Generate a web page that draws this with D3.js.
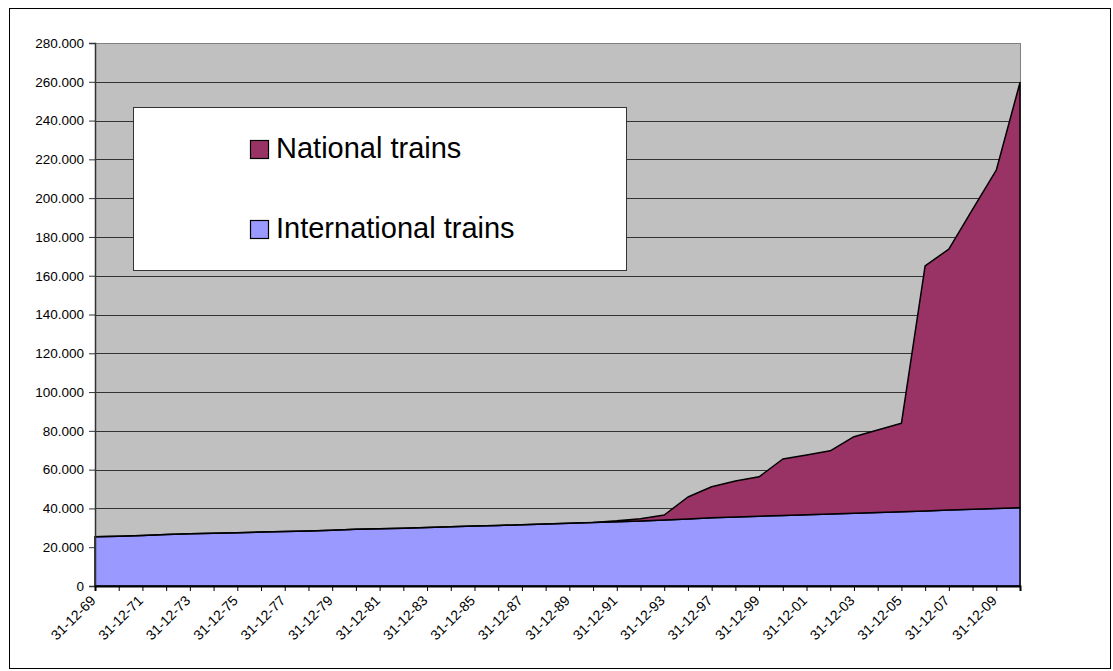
<!DOCTYPE html>
<html>
<head>
<meta charset="utf-8">
<script src="https://cdn.jsdelivr.net/npm/d3@7"></script>
<style>
  body { margin: 0; background: #fff; }
  svg { display: block; font-family: "Liberation Sans", Arial, sans-serif; }
</style>
</head>
<body>
<svg width="1113" height="671"></svg>
<script>
// dates on the category axis (one year is skipped after 93)
var dates = ["31-12-69","31-12-70","31-12-71","31-12-72","31-12-73","31-12-74","31-12-75","31-12-76",
  "31-12-77","31-12-78","31-12-79","31-12-80","31-12-81","31-12-82","31-12-83","31-12-84","31-12-85",
  "31-12-86","31-12-87","31-12-88","31-12-89","31-12-90","31-12-91","31-12-92","31-12-93","31-12-95",
  "31-12-97","31-12-98","31-12-99","31-12-00","31-12-01","31-12-02","31-12-03","31-12-04","31-12-05",
  "31-12-06","31-12-07","31-12-08","31-12-09","31-12-10"];

// international trains (bottom series)
var international = [25400,25700,26100,26500,26900,27200,27500,27800,28100,28400,28800,29200,29500,
  29800,30200,30600,30900,31200,31600,32000,32300,32700,33100,33500,34000,34600,35200,35600,36000,
  36400,36700,37100,37500,37900,38300,38700,39200,39600,40000,40400];

// national trains (stacked on top)
var national = [0,0,0,0,0,0,0,0,0,0,0,0,0,0,0,0,0,0,0,0,0,100,500,1200,2600,11300,16000,18500,20300,
  29100,30800,32600,39500,42500,45600,126400,134500,154600,174400,219200];

var yTicks = [0,20000,40000,60000,80000,100000,120000,140000,160000,180000,200000,220000,240000,260000,280000];

var seriesNames = ["International trains", "National trains"];
var colors = {"International trains": "#9999FF", "National trains": "#993366"};

var svg = d3.select("svg");

// outer chart border
svg.append("rect")
  .attr("x", 9.5).attr("y", 8.5)
  .attr("width", 1101).attr("height", 660)
  .attr("fill", "#fff").attr("stroke", "#000").attr("stroke-width", 1);

var plotLeft = 95, plotRight = 1020, plotTop = 43, plotBottom = 586;

var x = d3.scalePoint().domain(dates).range([plotLeft, plotRight]);
var y = d3.scaleLinear().domain([0, 280000]).range([plotBottom, plotTop]);

// plot background
svg.append("rect")
  .attr("x", plotLeft).attr("y", plotTop)
  .attr("width", plotRight - plotLeft).attr("height", plotBottom - plotTop)
  .attr("fill", "#C0C0C0");

// gridlines
svg.append("g").selectAll("line")
  .data(yTicks.slice(1))
  .join("line")
  .attr("x1", plotLeft).attr("x2", plotRight)
  .attr("y1", function(d) { return Math.round(y(d)) + 0.5; })
  .attr("y2", function(d) { return Math.round(y(d)) + 0.5; })
  .attr("stroke", function(d) { return d === 280000 ? "#808080" : "#333"; })
  .attr("stroke-width", 1);

// right edge of plot area
svg.append("line")
  .attr("x1", plotRight + 0.5).attr("x2", plotRight + 0.5)
  .attr("y1", plotTop).attr("y2", plotBottom)
  .attr("stroke", "#808080");

var rows = dates.map(function(d, i) {
  return {date: d, "International trains": international[i], "National trains": national[i]};
});

var stacked = d3.stack().keys(seriesNames)(rows);

var area = d3.area()
  .x(function(d) { return x(d.data.date); })
  .y0(function(d) { return y(d[0]); })
  .y1(function(d) { return y(d[1]); });

svg.append("g").selectAll("path")
  .data(stacked)
  .join("path")
  .attr("d", area)
  .attr("fill", function(d) { return colors[d.key]; })
  .attr("stroke", "#000")
  .attr("stroke-width", 1.5)
  .attr("stroke-linejoin", "round");

// y axis
var yAxis = svg.append("g")
  .attr("transform", "translate(" + plotLeft + ",0)")
  .call(d3.axisLeft(y).tickValues(yTicks).tickSize(6).tickPadding(5)
    .tickFormat(function(d) { return d === 0 ? "0" : d3.format(",")(d).replace(/,/g, "."); }));
yAxis.select(".domain").attr("stroke", "#333").attr("stroke-width", 1.5);
yAxis.selectAll(".tick line").attr("stroke", "#333");
yAxis.selectAll("text").attr("font-size", "13.5px").attr("fill", "#000")
  .attr("font-family", "Liberation Sans, Arial, sans-serif");

// x axis
var xAxis = svg.append("g")
  .attr("transform", "translate(0," + plotBottom + ")")
  .call(d3.axisBottom(x).tickSize(5).tickFormat(""));
xAxis.select(".domain").attr("stroke", "#000").attr("stroke-width", 2);
xAxis.selectAll(".tick line").attr("stroke", "#000");

svg.append("g").selectAll("text")
  .data(dates.filter(function(d, i) { return i % 2 === 0; }))
  .join("text")
  .attr("transform", function(d) { return "translate(" + (x(d) - 2) + "," + (plotBottom + 12) + ") rotate(-45)"; })
  .attr("text-anchor", "end")
  .attr("dy", "0.35em")
  .attr("font-size", "14px")
  .text(function(d) { return d; });

// legend
var legend = svg.append("g");
legend.append("rect")
  .attr("x", 133.5).attr("y", 107.5)
  .attr("width", 493).attr("height", 163)
  .attr("fill", "#fff").attr("stroke", "#333").attr("stroke-width", 1);

var legendItems = [
  {name: "National trains", y: 141},
  {name: "International trains", y: 221}
];
legend.selectAll("rect.key")
  .data(legendItems)
  .join("rect")
  .attr("class", "key")
  .attr("x", 250.5).attr("y", function(d) { return d.y - 0.5; })
  .attr("width", 18).attr("height", 18)
  .attr("fill", function(d) { return colors[d.name]; })
  .attr("stroke", "#000").attr("stroke-width", 1.2);
legend.selectAll("text")
  .data(legendItems)
  .join("text")
  .attr("x", 276)
  .attr("y", function(d) { return d.y + 17; })
  .attr("font-size", "29px")
  .text(function(d) { return d.name; });
</script>
</body>
</html>
